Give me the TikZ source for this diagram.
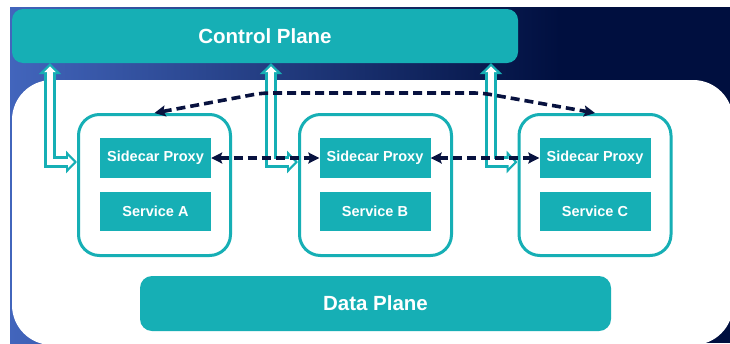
\documentclass[tikz,border=0pt]{standalone}
\usepackage{fontspec}
\setmainfont{Liberation Sans}
\usetikzlibrary{arrows.meta}

\definecolor{tealc}{HTML}{16AFB5}
\definecolor{navybg}{HTML}{000F3F}
\definecolor{bluebg}{HTML}{4265BC}
\definecolor{navyd}{HTML}{08123F}

\tikzset{
  plane/.style={fill=tealc, rounded corners=11pt, inner sep=0pt, text=white,
    font=\fontsize{20.5}{24}\selectfont\bfseries},
  podbox/.style={draw=tealc, line width=3pt, rounded corners=21pt, fill=white,
    minimum width=152pt, minimum height=141pt, inner sep=0pt},
  inbox/.style={fill=tealc, inner sep=0pt, text=white, minimum width=111pt,
    font=\fontsize{14.5}{16}\selectfont\bfseries},
  hollowout/.style={draw=tealc, line width=12pt,
    {Triangle[width=22pt,length=11pt]}-{Triangle[width=22pt,length=11pt]}},
  hollowin/.style={draw=white, line width=6.5pt, shorten <=3.2pt, shorten >=3.2pt,
    {Triangle[width=11.5pt,length=5.8pt]}-{Triangle[width=11.5pt,length=5.8pt]}},
  dsh/.style={draw=navyd, line width=3.6pt, dash pattern=on 9pt off 5pt,
    {Stealth[length=11pt,width=11pt,inset=2pt]}-{Stealth[length=11pt,width=11pt,inset=2pt]}}
}

\begin{document}
\begin{tikzpicture}[x=1pt, y=-1pt]
\useasboundingbox (0,0) rectangle (730,343);

% backdrop: blue fading into navy
\fill[navybg] (10,7) rectangle (730,343);
\shade[left color=bluebg, right color=navybg] (10,7) rectangle (560,343);

% white data-plane panel
\fill[white, rounded corners=40pt] (12,80) rectangle (733,345);

% control plane
\node[plane, minimum width=506pt, minimum height=54pt] (cp) at (265,36) {Control Plane};

% pods
\node[podbox] (podA) at (154.5,185) {};
\node[podbox] (podB) at (375.5,185) {};
\node[podbox] (podC) at (595,185) {};

\node[inbox, minimum height=40pt] (pxA) at (155.5,158) {Sidecar Proxy};
\node[inbox, minimum height=39pt] (svA) at (155.5,211.5) {Service A};
\node[inbox, minimum height=40pt] (pxB) at (375,158) {Sidecar Proxy};
\node[inbox, minimum height=39pt] (svB) at (375,211.5) {Service B};
\node[inbox, minimum height=40pt] (pxC) at (595,158) {Sidecar Proxy};
\node[inbox, minimum height=39pt] (svC) at (595,211.5) {Service C};

% data plane
\node[plane, rounded corners=12pt, minimum width=471pt, minimum height=55pt] (dp) at (375.5,303.5) {Data Plane};

% control links (hollow double arrows)
\coordinate (kA) at (50,162);
\coordinate (kB) at (271,162);
\coordinate (kC) at (491,162);
\foreach \k/\p in {kA/podA, kB/podB, kC/podC} {
  \draw[hollowout] (cp.south -| \k) -- (\k) -- (\k -| \p.west);
  \draw[hollowin] (cp.south -| \k) -- (\k) -- (\k -| \p.west);
}

% proxy-to-proxy traffic
\coordinate (tl) at (262,93);
\coordinate (tr) at (482,93);
\draw[dsh, rounded corners=8pt] (podA.north) -- (tl) -- (tr) -- (podC.north);
\draw[dsh] (pxA.east) -- (pxB.west);
\draw[dsh] (pxB.east) -- (pxC.west);
\end{tikzpicture}
\end{document}
